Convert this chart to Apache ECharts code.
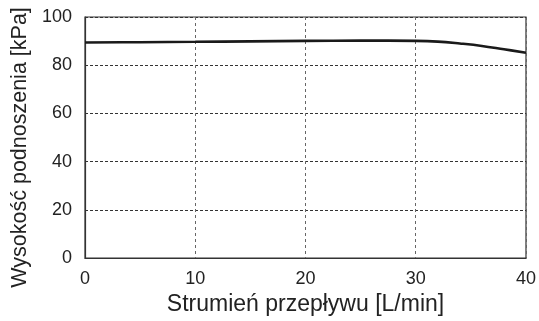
<!DOCTYPE html>
<html>
<head>
<meta charset="utf-8">
<script src="https://cdn.jsdelivr.net/npm/echarts@6/dist/echarts.min.js"></script>
<style>
  html, body { margin: 0; padding: 0; background: #fff; }
  #chart { width: 539px; height: 321px; }
</style>
</head>
<body>
<div id="chart"></div>
<script>
// Pump head curve: flow rate [L/min] vs. head [kPa]
const flow = [0, 5, 10, 15, 20, 25, 30, 32, 34, 36, 38, 40];
const head = [89.4, 89.55, 89.7, 89.9, 90.1, 90.2, 90.1, 89.8, 89.0, 88.0, 86.6, 85.2];
const xTicks = [0, 10, 20, 30, 40];
const yTicks = [0, 20, 40, 60, 80, 100];

const font = '"Liberation Sans", Arial, sans-serif';
const chart = echarts.init(document.getElementById('chart'), null, { renderer: 'canvas' });

chart.setOption({
  animation: false,
  backgroundColor: '#ffffff',
  grid: {
    left: 85, right: 9, top: 17, bottom: 59,
    show: true, borderColor: '#333', borderWidth: 1.2, backgroundColor: 'transparent'
  },
  xAxis: {
    type: 'value',
    min: xTicks[0], max: xTicks[xTicks.length - 1], interval: 10,
    name: 'Strumień przepływu [L/min]',
    nameLocation: 'middle', nameGap: 35,
    nameTextStyle: { fontFamily: font, fontSize: 23, color: '#222' },
    axisLine: { show: true, lineStyle: { color: '#333', width: 1.2 } },
    axisTick: { show: false },
    axisLabel: { fontFamily: font, fontSize: 18, color: '#222', margin: 12 },
    splitLine: { show: true, lineStyle: { color: '#666', type: [3, 3], width: 1 } }
  },
  yAxis: {
    type: 'value',
    min: yTicks[0], max: yTicks[yTicks.length - 1], interval: 20,
    name: 'Wysokość podnoszenia [kPa]',
    nameLocation: 'middle', nameGap: 51,
    nameTextStyle: { fontFamily: font, fontSize: 21.5, color: '#222', padding: [0, 20, 0, 0] },
    axisLine: { show: true, lineStyle: { color: '#333', width: 1.2 } },
    axisTick: { show: false },
    axisLabel: { fontFamily: font, fontSize: 18, color: '#222', margin: 13 },
    splitLine: { show: true, lineStyle: { color: '#333', type: [3, 2], width: 1 } }
  },
  series: [{
    type: 'line',
    data: flow.map((f, i) => [f, head[i]]),
    smooth: 0.4,
    showSymbol: false,
    lineStyle: { color: '#1a1a1a', width: 2.6 }
  }]
});
</script>
</body>
</html>
